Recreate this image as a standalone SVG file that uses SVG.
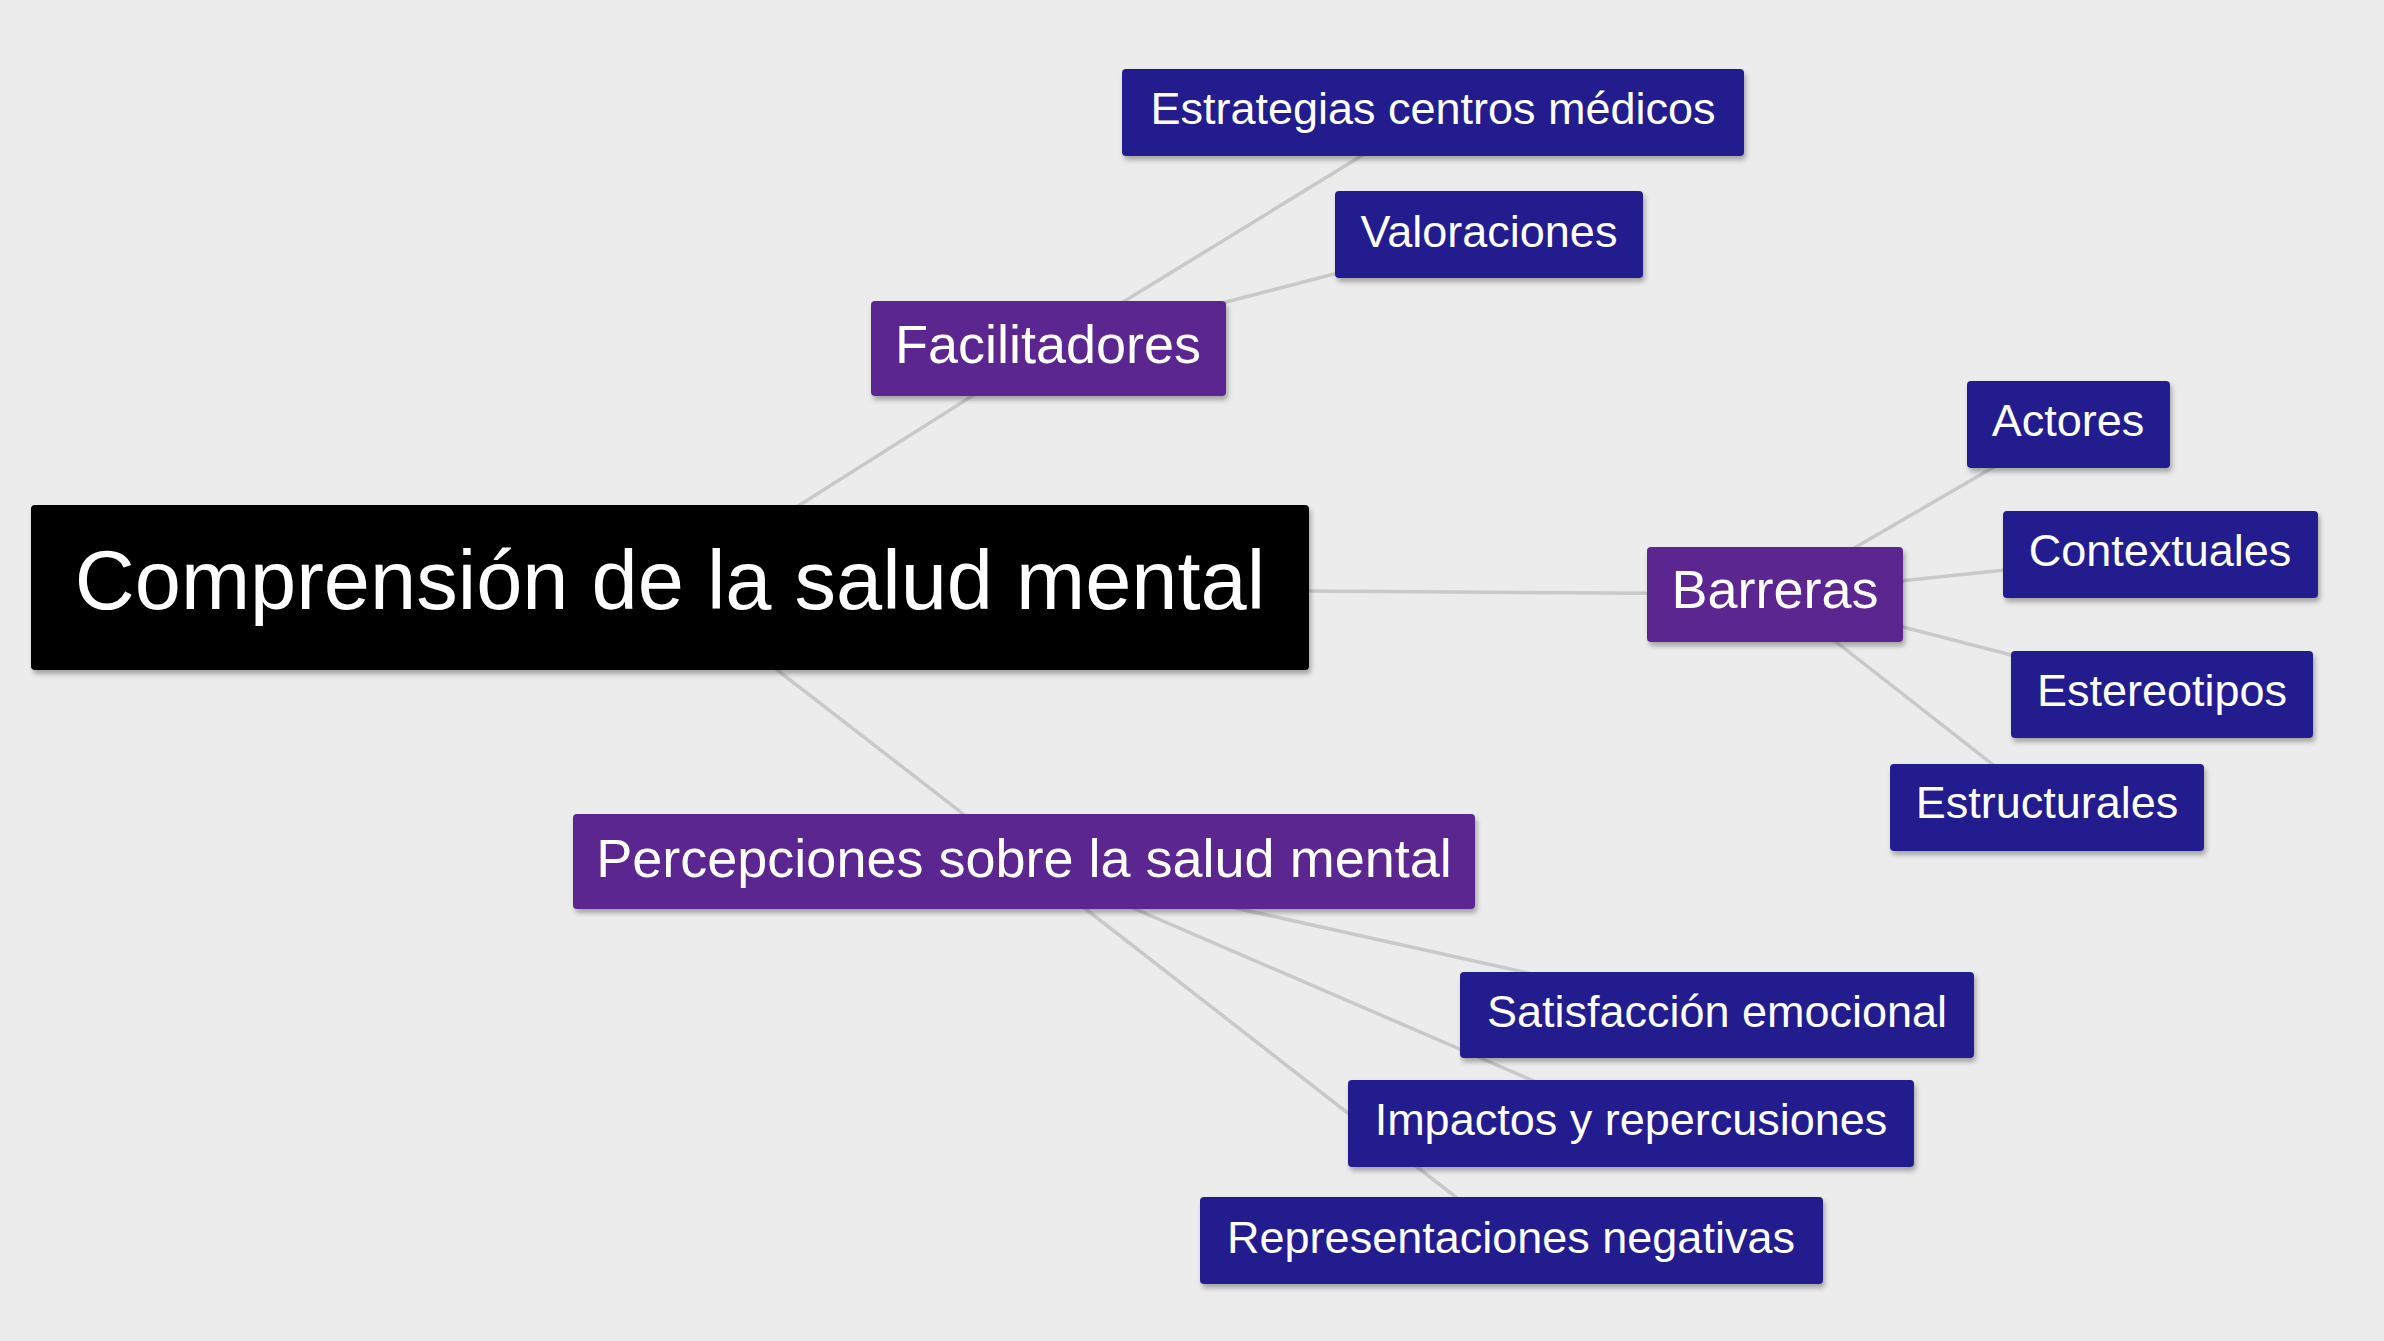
<svg xmlns="http://www.w3.org/2000/svg" width="2384" height="1341" viewBox="0 0 2384 1341">
<defs>
<filter id="sh" x="-10%" y="-20%" width="120%" height="150%">
<feDropShadow dx="2" dy="4" stdDeviation="2.5" flood-color="#000" flood-opacity="0.3"/>
</filter>
<style>
.bg{fill:#ececec}
.edge{stroke:#c9c9c9;stroke-width:3.5;fill:none}
.root{fill:#000}
.mid{fill:#5b2891}
.leaf{fill:#221e8f}
text{font-family:"Liberation Sans",Arial,sans-serif;fill:#fff;text-anchor:middle}
.t0{font-size:83px}
.t1{font-size:54px}
.t2{font-size:45px}
</style>
</defs>
<rect class="bg" x="0" y="0" width="2384" height="1341"/>
<g id="connectors">
<line class="edge" x1="670" y1="587" x2="1048" y2="348"/>
<line class="edge" x1="670" y1="587" x2="1775" y2="594"/>
<line class="edge" x1="670" y1="587" x2="1024" y2="861"/>
<line class="edge" x1="1048" y1="348" x2="1433" y2="112"/>
<line class="edge" x1="1048" y1="348" x2="1489" y2="234"/>
<line class="edge" x1="1775" y1="594" x2="2068" y2="424"/>
<line class="edge" x1="1775" y1="594" x2="2160" y2="554"/>
<line class="edge" x1="1775" y1="594" x2="2162" y2="694"/>
<line class="edge" x1="1775" y1="594" x2="2047" y2="807"/>
<line class="edge" x1="1024" y1="861" x2="1717" y2="1015"/>
<line class="edge" x1="1024" y1="861" x2="1631" y2="1123"/>
<line class="edge" x1="1024" y1="861" x2="1511" y2="1240"/>
</g>
<g id="root">
<rect class="root" x="31" y="505" width="1278" height="165" rx="4" filter="url(#sh)"/>
<text class="t0" x="670" y="609">Comprensión de la salud mental</text>
</g>
<g id="facilitadores">
<rect class="mid" x="871" y="301" width="355" height="95" rx="4" filter="url(#sh)"/>
<text class="t1" x="1048" y="363">Facilitadores</text>
</g>
<g id="barreras">
<rect class="mid" x="1647" y="547" width="256" height="95" rx="4" filter="url(#sh)"/>
<text class="t1" x="1775" y="608">Barreras</text>
</g>
<g id="percepciones">
<rect class="mid" x="573" y="814" width="902" height="95" rx="4" filter="url(#sh)"/>
<text class="t1" x="1024" y="877">Percepciones sobre la salud mental</text>
</g>
<g id="estrategias">
<rect class="leaf" x="1122" y="69" width="622" height="87" rx="4" filter="url(#sh)"/>
<text class="t2" x="1433" y="124">Estrategias centros médicos</text>
</g>
<g id="valoraciones">
<rect class="leaf" x="1335" y="191" width="308" height="87" rx="4" filter="url(#sh)"/>
<text class="t2" x="1489" y="247">Valoraciones</text>
</g>
<g id="actores">
<rect class="leaf" x="1967" y="381" width="203" height="87" rx="4" filter="url(#sh)"/>
<text class="t2" x="2068" y="436">Actores</text>
</g>
<g id="contextuales">
<rect class="leaf" x="2003" y="511" width="315" height="87" rx="4" filter="url(#sh)"/>
<text class="t2" x="2160" y="566">Contextuales</text>
</g>
<g id="estereotipos">
<rect class="leaf" x="2011" y="651" width="302" height="87" rx="4" filter="url(#sh)"/>
<text class="t2" x="2162" y="706">Estereotipos</text>
</g>
<g id="estructurales">
<rect class="leaf" x="1890" y="764" width="314" height="87" rx="4" filter="url(#sh)"/>
<text class="t2" x="2047" y="818">Estructurales</text>
</g>
<g id="satisfaccion">
<rect class="leaf" x="1460" y="972" width="514" height="86" rx="4" filter="url(#sh)"/>
<text class="t2" x="1717" y="1027">Satisfacción emocional</text>
</g>
<g id="impactos">
<rect class="leaf" x="1348" y="1080" width="566" height="87" rx="4" filter="url(#sh)"/>
<text class="t2" x="1631" y="1135">Impactos y repercusiones</text>
</g>
<g id="representaciones">
<rect class="leaf" x="1200" y="1197" width="623" height="87" rx="4" filter="url(#sh)"/>
<text class="t2" x="1511" y="1253">Representaciones negativas</text>
</g>
</svg>
